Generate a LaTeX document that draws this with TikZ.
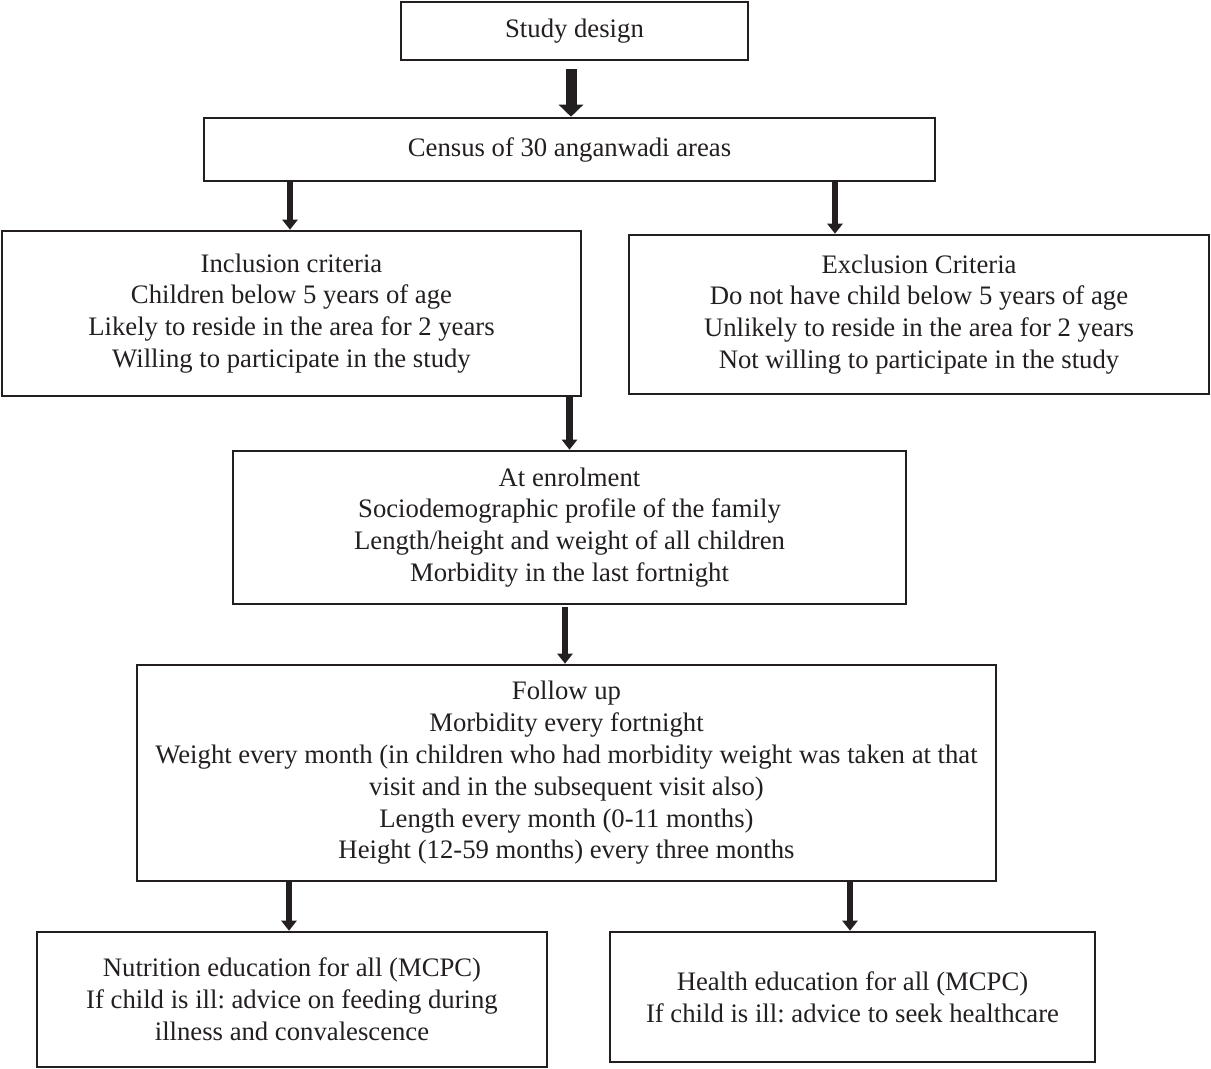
\documentclass[tikz,border=0pt]{standalone}
\usepackage{fontspec}
\setmainfont{Liberation Serif}
\usetikzlibrary{arrows.meta}
\definecolor{ink}{HTML}{231F20}
\frenchspacing
\begin{document}
\begin{tikzpicture}[x=1pt,y=-1pt,
  box/.style={draw=ink,line width=2.6pt,inner sep=0pt,align=center,text=ink,
    font=\fontsize{26.7}{31.8}\selectfont},
  arr/.style={draw=ink,line width=6.5pt,-{Triangle[width=15pt,length=10pt]}},
  bigarr/.style={draw=ink,line width=11pt,-{Triangle[width=24pt,length=12pt]}}]
\useasboundingbox (0,0) rectangle (1211,1069);
\node[box,minimum width=347pt,minimum height=58pt] (study) at (574.5,31) {Study design};
\node[box,minimum width=731pt,minimum height=63pt] (census) at (569.5,149.5) {Census of 30 anganwadi areas};
\node[box,minimum width=579pt,minimum height=165pt] (incl) at (291.5,313.5) {Inclusion criteria\\Children below 5 years of age\\Likely to reside in the area for 2 years\\Willing to participate in the study};
\node[box,minimum width=580pt,minimum height=159pt] (excl) at (919,314.5) {Exclusion Criteria\\Do not have child below 5 years of age\\Unlikely to reside in the area for 2 years\\Not willing to participate in the study};
\node[box,minimum width=673pt,minimum height=153pt] (enrol) at (569.5,527.5) {At enrolment\\Sociodemographic profile of the family\\Length/height and weight of all children\\Morbidity in the last fortnight};
\node[box,minimum width=859pt,minimum height=216pt] (follow) at (566.5,773) {Follow up\\Morbidity every fortnight\\Weight every month (in children who had morbidity weight was taken at that\\visit and in the subsequent visit also)\\Length every month (0-11 months)\\Height (12-59 months) every three months};
\node[box,minimum width=510pt,minimum height=135pt] (nutr) at (292,999.5) {Nutrition education for all (MCPC)\\If child is ill: advice on feeding during\\illness and convalescence};
\node[box,minimum width=485pt,minimum height=130pt] (health) at (852.5,997) {Health education for all (MCPC)\\If child is ill: advice to seek healthcare};
\draw[bigarr] ([xshift=-3.5pt,yshift=-8pt]study.south) -- ([xshift=1.5pt]census.north);
\draw[arr] ([xshift=-279.5pt]census.south) -- ([xshift=-1.5pt]incl.north);
\draw[arr] ([xshift=265.5pt]census.south) -- ([xshift=-84pt]excl.north);
\draw[arr] (incl.south -| enrol.north) -- (enrol.north);
\draw[arr] ([xshift=-4.5pt,yshift=-2pt]enrol.south) -- ([xshift=-1.5pt]follow.north);
\draw[arr] ([xshift=-277.5pt]follow.south) -- ([xshift=-3pt]nutr.north);
\draw[arr] ([xshift=283.5pt]follow.south) -- ([xshift=-2.5pt]health.north);
\end{tikzpicture}
\end{document}
